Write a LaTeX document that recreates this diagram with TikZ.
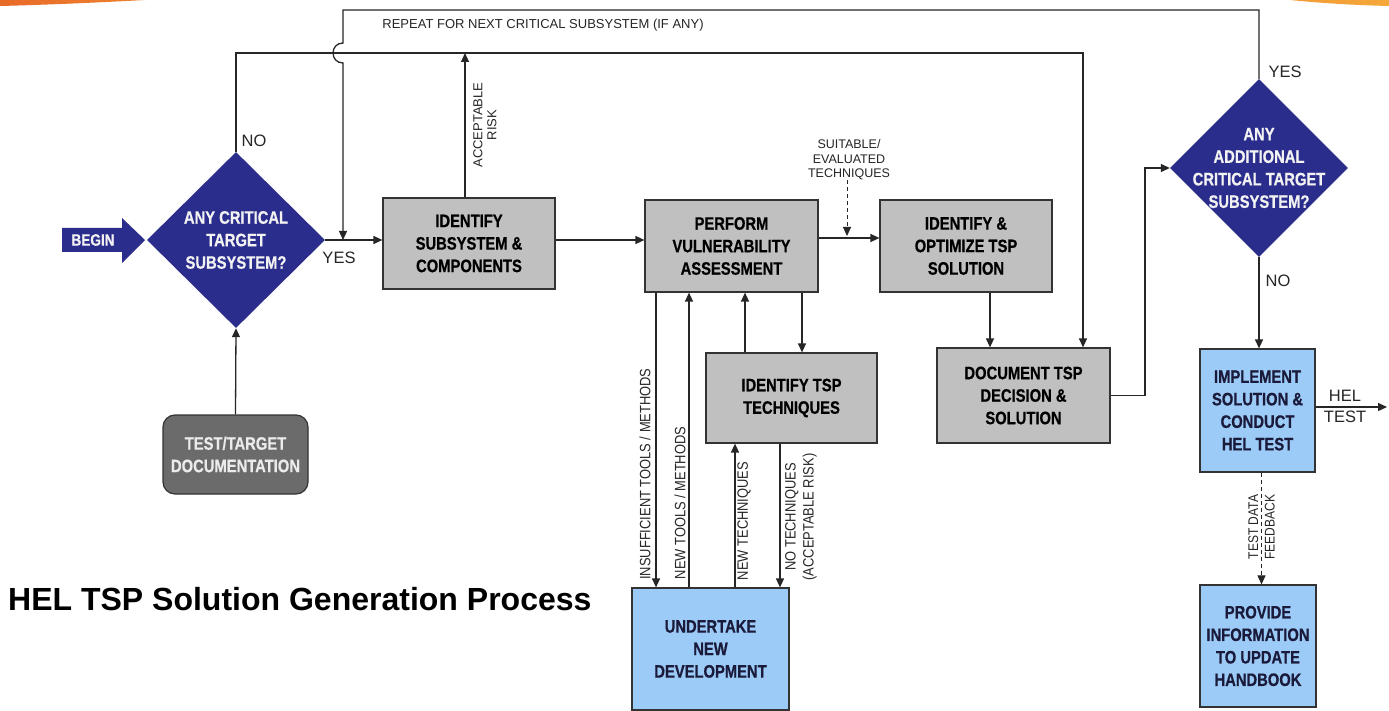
\documentclass[tikz,border=0pt]{standalone}
\usepackage{fontspec}
\setmainfont{Liberation Sans}
\newfontfamily\bx{Liberation Sans}[FakeStretch=0.82, FakeBold=0.6]
\newfontfamily\nx{Liberation Sans}[FakeStretch=0.86]
\usetikzlibrary{shapes.geometric,arrows.meta,calc}
\definecolor{navy}{HTML}{2B2D8C}
\definecolor{boxgray}{HTML}{C0C0C0}
\definecolor{boxblue}{HTML}{9DCBF7}
\definecolor{docgray}{HTML}{6B6B6B}
\definecolor{bluetext}{HTML}{1A1A3A}
\definecolor{orangeA}{HTML}{E86A28}
\definecolor{orangeB}{HTML}{F5A83A}
\begin{document}
\begin{tikzpicture}[x=1pt,y=-1pt,
  arr/.style={-{Triangle[length=9pt,width=8pt]}, line width=1.3pt, draw=black!85},
  arrdash/.style={arr, line width=1pt, dash pattern=on 4pt off 3pt},
  boxtext/.style={font=\bx\bfseries\fontsize{18}{22.5}\selectfont, align=center, inner sep=0pt},
  gbox/.style={boxtext, draw=black!80, line width=1.2pt, fill=boxgray, text=black},
  bbox/.style={boxtext, draw=black!80, line width=1.2pt, fill=boxblue, text=bluetext},
  dbox/.style={boxtext, draw=black!80, line width=1.2pt, fill=docgray, text=white!92!black, rounded corners=12pt},
  dia/.style={diamond, fill=navy, inner sep=0pt, minimum width=178pt, minimum height=176pt},
  dtext/.style={boxtext, text=white!95!black},
  lab/.style={font=\fontsize{16.5}{18}\selectfont, inner sep=0pt, text=black!85},
  slab/.style={font=\fontsize{13}{15}\selectfont, inner sep=0pt, align=center, text=black!85},
  vlab/.style={slab, rotate=90, font=\nx\fontsize{15}{18}\selectfont}
]
\useasboundingbox (0,0) rectangle (1389,711);
\fill[white] (0,0) rectangle (1389,711);
% decorations
\shade[left color=orangeA, right color=orangeA!60!orangeB] (0,0) -- (145,0) .. controls (90,3) and (40,5) .. (0,6) -- cycle;
\shade[left color=orangeB!80!orangeA, right color=orangeB] (1290,0) -- (1389,0) -- (1389,6) .. controls (1350,5) and (1320,3) .. (1290,0) -- cycle;

% decisions
\node[dia] (d1) at (236,240) {};
\node[dtext] (d1t) at (d1) {ANY CRITICAL\\TARGET\\SUBSYSTEM?};
\node[dia, minimum height=178pt] (d2) at (1259,168) {};
\node[dtext] (d2t) at (d2) {ANY\\ADDITIONAL\\CRITICAL TARGET\\SUBSYSTEM?};

% begin arrow
\fill[navy] (62,228) -- (122,228) -- (122,218) -- (145,240) -- (122,263) -- (122,252) -- (62,252) -- cycle;
\node[dtext, font=\bx\bfseries\fontsize{16.5}{20}\selectfont] (begin) at (93,240) {BEGIN};

% boxes
\node[gbox, minimum width=172pt, minimum height=91pt] (b1) at (469,243.5) {IDENTIFY\\SUBSYSTEM \&\\COMPONENTS};
\node[gbox, minimum width=173pt, minimum height=92pt] (b2) at (731.5,246) {PERFORM\\VULNERABILITY\\ASSESSMENT};
\node[gbox, minimum width=172pt, minimum height=92pt] (b3) at (966,246) {IDENTIFY \&\\OPTIMIZE TSP\\SOLUTION};
\node[gbox, minimum width=173pt, minimum height=95pt] (b4) at (1023.5,395.5) {DOCUMENT TSP\\DECISION \&\\SOLUTION};
\node[gbox, minimum width=171pt, minimum height=90pt] (b5) at (791.5,398) {IDENTIFY TSP\\TECHNIQUES};
\node[bbox, minimum width=157pt, minimum height=122pt] (b6) at (710.5,649) {UNDERTAKE\\NEW\\DEVELOPMENT};
\node[bbox, minimum width=115pt, minimum height=123pt] (b7) at (1257.5,410.5) {IMPLEMENT\\SOLUTION \&\\CONDUCT\\HEL TEST};
\node[bbox, minimum width=116pt, minimum height=122pt] (b8) at (1258,646) {PROVIDE\\INFORMATION\\TO UPDATE\\HANDBOOK};
\node[dbox, minimum width=145pt, minimum height=79pt] (doc) at (235.5,454.5) {TEST/TARGET\\DOCUMENTATION};

% title
\node[anchor=base west, inner sep=0pt, font=\bfseries\fontsize{32}{34}\selectfont] (title) at (8,610) {HEL TSP Solution Generation Process};

% labels
\node[lab] (no1) at (254,141) {NO};
\node[lab] (yes1) at (339,258) {YES};
\node[lab] (yes2) at (1285,72) {YES};
\node[lab] (no2) at (1278,281) {NO};
\node[lab] (hel) at (1345,396) {HEL};
\node[lab] (test) at (1345,417) {TEST};
\node[slab] (rep) at (543,25) {REPEAT FOR NEXT CRITICAL SUBSYSTEM (IF ANY)};
\node[slab, font=\fontsize{12.5}{14.5}\selectfont] (suit) at (849,160) {SUITABLE/\\EVALUATED\\TECHNIQUES};
\node[vlab, font=\fontsize{13}{14}\selectfont] (acc) at (485,125) {ACCEPTABLE\\RISK};
\node[vlab] (insuf) at (645,474) {INSUFFICIENT TOOLS / METHODS};
\node[vlab] (newtools) at (680,503) {NEW TOOLS / METHODS};
\node[vlab] (newtech) at (744,521) {NEW TECHNIQUES};
\node[vlab] (notech) at (801,517) {NO TECHNIQUES\\(ACCEPTABLE RISK)};
\node[vlab, font=\nx\fontsize{14}{16.5}\selectfont] (tdf) at (1261.5,527) {TEST DATA\\FEEDBACK};

% coordinates
\coordinate (nTop) at (1083,53);
\coordinate (accTop) at (465,53);
\coordinate (rTop) at (343,10);
\coordinate (sy) at (0,238);
\coordinate (sp) at (847,236);
\coordinate (x990) at (990,0);
\coordinate (x1145) at (1145,0);
\coordinate (hend) at (1387,407);
\coordinate (xa) at (656,0);
\coordinate (xb) at (689,0);
\coordinate (xc) at (745,0);
\coordinate (xd) at (802,0);
\coordinate (xe) at (735,0);
\coordinate (xf) at (780,0);

% connectors
\draw[arr] (d1.north) |- (nTop) -- (nTop |- b4.north);
\draw[arr] (b1.north -| accTop) -- (accTop);
\draw[arr] (d1.east) -- (b1.west |- d1.east);
\draw[arr] (d2.north) |- (rTop) -- (343,43) .. controls (329.7,43) and (329.7,63) .. (343,63) -- (rTop |- d1.east);
\draw[arr] (b1.east |- d1.east) -- (b2.west |- d1.east);
\draw[arr] (b2.east |- sy) -- (b3.west |- sy);
\draw[arrdash] (suit.south -| sp) -- (sp);
\draw[arr] (b3.south -| x990) -- (b4.north -| x990);
\draw[arr] (b4.east) -- (b4.east -| x1145) |- (d2.west);
\draw[arr] (d2.south) -- (d2.south |- b7.north);
\draw[arr] (b7.east |- hend) -- (hend);
\draw[arrdash] (b7.south -| tdf) -- (b8.north -| tdf);
\draw[arr] (doc.north) -- (d1.south);
\draw[arr] (b2.south -| xa) -- (b6.north -| xa);
\draw[arr] (b6.north -| xb) -- (b2.south -| xb);
\draw[arr] (b5.north -| xc) -- (b2.south -| xc);
\draw[arr] (b2.south -| xd) -- (b5.north -| xd);
\draw[arr] (b6.north -| xe) -- (b5.south -| xe);
\draw[arr] (b5.south -| xf) -- (b6.north -| xf);
\end{tikzpicture}
\end{document}
